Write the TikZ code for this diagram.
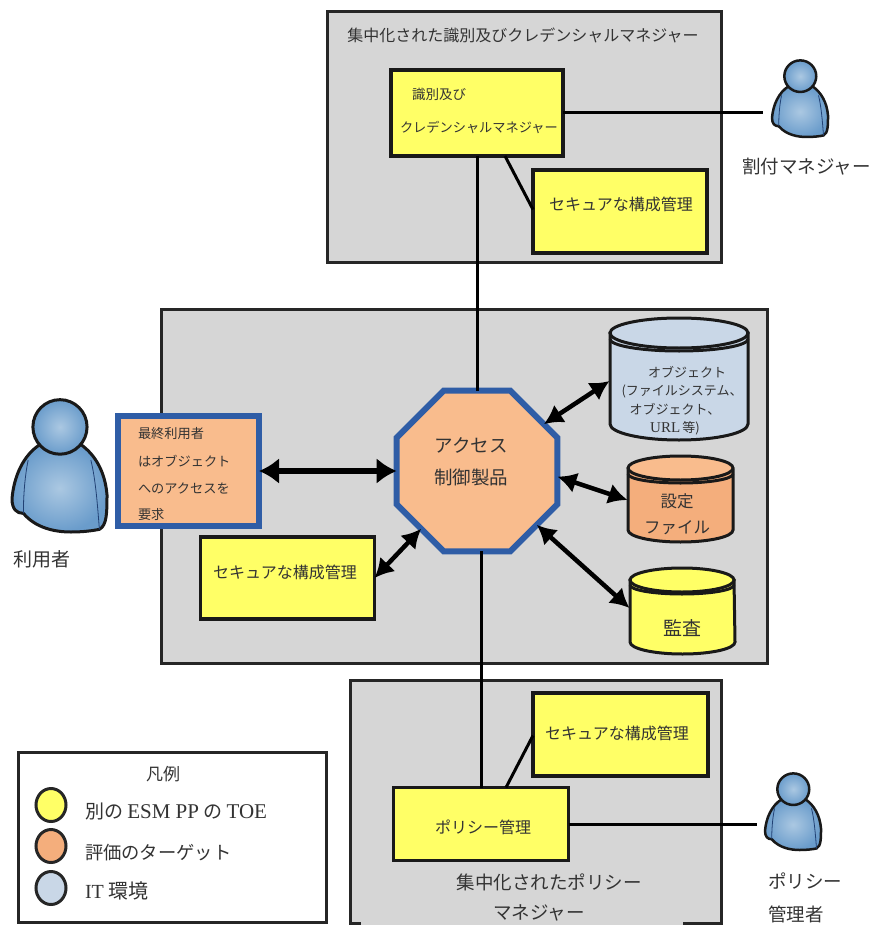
\documentclass[tikz,border=0pt]{standalone}
\usepackage{fontspec}
\setmainfont{Liberation Serif}
\newfontfamily\jp{Noto Sans CJK JP}
\usetikzlibrary{arrows.meta,shapes.geometric,calc}
\definecolor{grayfill}{HTML}{D6D6D6}
\definecolor{yel}{HTML}{FFFF66}
\definecolor{ora}{HTML}{F9BC8D}
\definecolor{oradk}{HTML}{F4AE7C}
\definecolor{blu}{HTML}{C9D7E7}
\definecolor{edge}{HTML}{2F5DA6}
\definecolor{ink}{HTML}{333333}
\definecolor{persin}{HTML}{ABC8E2}
\definecolor{persout}{HTML}{6A9CCB}
\newcommand{\lat}[1]{{\rmfamily #1}}
\tikzset{
  x=1pt,y=-1pt,
  every node/.style={inner sep=0pt,outer sep=0pt,font=\jp,text=ink},
  txt/.style={font=\jp\fontsize{#1}{#1}\selectfont},
  grp/.style={draw=black!85,line width=3pt,fill=grayfill},
  ybox/.style={rectangle,draw=black!90,line width=3.5pt,fill=yel},
  obox/.style={rectangle,draw=edge,line width=6pt,fill=ora},
  wire/.style={draw=black,line width=3pt},
  dbl/.style={draw=black,line width=#1,{Latex[length=19pt,width=21pt]}-{Latex[length=19pt,width=21pt]}},
  dbl/.default=4.5pt,
  swatch/.style={ellipse,draw=black!85,line width=3pt,minimum width=30pt,minimum height=33pt}
}
\newcommand{\personfig}[5][2.5pt]{%
\begin{scope}[shift={(#2,#3)},xscale=#4,yscale=#5]
  \draw[line width=#1,draw=black!90,line join=round,inner color=persin,outer color=persout]
    (0.30,0.34) .. controls (0.12,0.42) and (0.02,0.58) .. (0,0.75)
    .. controls (0,0.83) and (0.05,0.86) .. (0.12,0.86)
    .. controls (0.25,0.97) and (0.45,1) .. (0.62,1)
    .. controls (0.75,1) and (0.85,0.99) .. (0.92,0.98)
    .. controls (1,0.95) and (1,0.85) .. (1,0.72)
    .. controls (0.98,0.55) and (0.88,0.42) .. (0.72,0.34) -- cycle;
  \draw[line width=0.8pt,draw=edge!70!black] (0.17,0.46) .. controls (0.13,0.6) and (0.12,0.75) .. (0.12,0.86);
  \draw[line width=0.8pt,draw=edge!70!black] (0.83,0.46) .. controls (0.88,0.6) and (0.9,0.8) .. (0.92,0.98);
  \draw[line width=#1,draw=black!90,inner color=persin,outer color=persout]
    (0.505,0.21) ellipse [x radius=0.285,y radius=0.205];
\end{scope}}
\begin{document}
\begin{tikzpicture}
\useasboundingbox (0,0) rectangle (872,925);
% groups
\node[grp,rectangle,minimum width=394pt,minimum height=250pt] (topgrp) at (524,137) {};
\node[grp,rectangle,minimum width=606pt,minimum height=354pt] (midgrp) at (464,486) {};
\node[grp,rectangle,minimum width=371pt,minimum height=243pt] (botgrp) at (535.5,801.5) {};
\fill[grayfill] (361,905) rectangle (683,925);
% top
\node[txt=16] (toptitle) at (523,35) {集中化された識別及びクレデンシャルマネジャー};
\node[ybox,minimum width=172pt,minimum height=86pt] (idm) at (477,113) {};
\node[txt=13.5,anchor=west] (idmA) at (412,94) {識別及び};
\node[txt=13.2,anchor=west] (idmB) at (400,127) {クレデンシャルマネジャー};
\node[ybox,minimum width=174pt,minimum height=83pt] (sec1) at (620,211.5) {};
\node[txt=16] (sec1t) at (621,204) {セキュアな構成管理};
% middle
\node[obox,minimum width=141pt,minimum height=110pt] (enduser) at (188.5,471) {};
\node[txt=13.2,anchor=west] (eu1) at (138,434) {最終利用者};
\node[txt=13.2,anchor=west] (eu2) at (138,461) {はオブジェクト};
\node[txt=13.2,anchor=west] (eu3) at (138,488) {へのアクセスを};
\node[txt=13.2,anchor=west] (eu4) at (138,515) {要求};
\node[ybox,minimum width=174pt,minimum height=82pt] (sec2) at (287.5,578) {};
\node[txt=16] (sec2t) at (285,572) {セキュアな構成管理};
\node[regular polygon,regular polygon sides=8,draw=edge,line width=6pt,fill=ora,minimum size=174pt] (oct) at (477,471) {};
\node[txt=18.5] (octA) at (471,445) {アクセス};
\node[txt=18.5] (octB) at (471,477) {制御製品};
% cylinders
\begin{scope}[line width=3pt,draw=black!90]
  \draw[fill=blu] (610,333) -- (610,424) arc[start angle=180,end angle=360,x radius=69,y radius=-16] -- (748,333) -- cycle;
  \draw[fill=blu] (679,333) ellipse [x radius=69,y radius=15];
  \draw (610,339) arc[start angle=180,end angle=360,x radius=69,y radius=-12];
  \draw[fill=oradk] (628,470) -- (628,530) arc[start angle=180,end angle=360,x radius=52.5,y radius=-12] -- (733,470) -- cycle;
  \draw[fill=ora] (680.5,468) ellipse [x radius=52.5,y radius=12];
  \draw (628,474) arc[start angle=180,end angle=360,x radius=52.5,y radius=-9];
  \draw[fill=yel] (630,580) -- (630,642) arc[start angle=180,end angle=360,x radius=52.5,y radius=-12] -- (734,580) -- cycle;
  \draw[fill=yel] (682,580) ellipse [x radius=52,y radius=12];
  \draw (630,585) arc[start angle=180,end angle=360,x radius=52,y radius=-9];
\end{scope}
\node[rectangle,minimum width=139pt,minimum height=124pt] (obj) at (679,381) {};
\node[rectangle,minimum width=105pt,minimum height=88pt] (cfg) at (680,500) {};
\node[rectangle,minimum width=105pt,minimum height=88pt] (aud) at (682,608) {};
\node[txt=13] (obj1) at (687,372) {オブジェクト};
\node[txt=13] (obj2) at (682,391) {(ファイルシステム、};
\node[txt=13] (obj3) at (675,409) {オブジェクト、};
\node[txt=13] (obj4) at (675,428) {\lat{\fontsize{15}{15}\selectfont URL}\,等)};
\node[txt=16.5] (cfg1) at (677,501) {設定};
\node[txt=16.5] (cfg2) at (677,528) {ファイル};
\node[txt=19] (aud1) at (682,628) {監査};
% bottom
\node[ybox,minimum width=175pt,minimum height=83pt] (sec3) at (620.5,734.5) {};
\node[txt=16] (sec3t) at (617,733) {セキュアな構成管理};
\node[ybox,minimum width=175pt,minimum height=73pt] (pol) at (481,824) {};
\node[txt=16] (polt) at (483,827) {ポリシー管理};
\node[txt=18.5] (bg1) at (549,882) {集中化されたポリシー};
\node[txt=18.5] (bg2) at (539,913) {マネジャー};
% people
\personfig[2.5pt]{772}{60}{56}{77}
\personfig[3pt]{12}{399}{95}{133}
\personfig[2.5pt]{765}{773}{56}{77}
\coordinate (assign) at (763,113);
\coordinate (admin) at (757,824);
\node[txt=18.5,anchor=west] (assignt) at (742,167) {割付マネジャー};
\node[txt=19,anchor=west] (usert) at (13,559) {利用者};
\node[txt=18.5,anchor=west] (admA) at (768,881) {ポリシー};
\node[txt=18.5,anchor=west] (admB) at (768,914) {管理者};
% connectors
\draw[wire] (idm.east) -- (assign);
\draw[wire] (idm.south) -- (oct.north);
\draw[wire] ($(idm.south)+(28,0)$) -- ($(sec1.west)+(0,-2)$);
\draw[wire] (pol.north) -- (pol.north |- oct.south);
\draw[wire] ($(pol.north)+(25,0)$) -- ($(sec3.west)+(0,1)$);
\draw[wire] (pol.east) -- (admin);
\draw[dbl=6pt,{Latex[length=20pt,width=26pt]}-{Latex[length=20pt,width=26pt]}] (enduser.east) -- (oct.west);
\draw[dbl] (sec2.east) -- (oct.-134);
\draw[dbl] (oct.35) -- (obj.west);
\draw[dbl] (oct.-4) -- (cfg.west);
\draw[dbl] (oct.-42) -- (aud.west);
% legend
\node[rectangle,draw=black!85,line width=3pt,fill=white,minimum width=308pt,minimum height=170pt] (legend) at (172,837.5) {};
\node[txt=17] (lgt) at (163,774) {凡例};
\node[swatch,fill=yel] (lg1) at (51,805) {};
\node[swatch,fill=oradk] (lg2) at (51,846) {};
\node[swatch,fill=blu] (lg3) at (51,888) {};
\node[txt=19,anchor=west] (lg1t) at (85,811) {別の \lat{\fontsize{21}{21}\selectfont ESM PP} の \lat{\fontsize{21}{21}\selectfont TOE}};
\node[txt=18.3,anchor=west] (lg2t) at (85,853) {評価のターゲット};
\node[txt=20,anchor=west] (lg3t) at (85,891) {\lat{IT} 環境};
\end{tikzpicture}
\end{document}
